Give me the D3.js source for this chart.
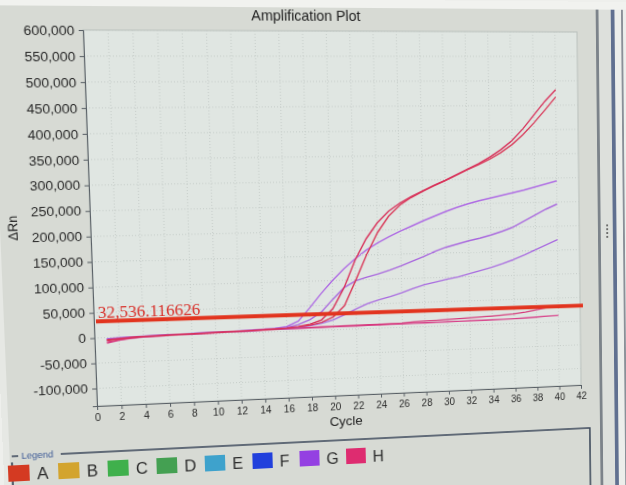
<!DOCTYPE html>
<html>
<head>
<meta charset="utf-8">
<script src="https://cdn.jsdelivr.net/npm/d3@7"></script>
<style>
  body { margin: 0; background: #eeefec; overflow: hidden; }
  svg { display: block; transform-origin: 0 0; }
  text { font-family: "Liberation Sans", Arial, sans-serif; }
</style>
</head>
<body>
<svg id="chart" width="680" height="540"></svg>
<script>
// Data
const cycles = [1,2,3,4,5,6,7,8,9,10,11,12,13,14,15,16,17,18,19,20,
                21,22,23,24,25,26,27,28,29,30,31,32,33,34,35,36,37,38,39,40];

const wellH1 = [-4000,-2500,-1000,0,500,1000,1500,2000,2500,3000,3500,4000,4500,5000,6000,
  7000,9000,13000,21000,43000,85000,140000,183000,215000,238000,254000,267000,278000,289000,299000,
  310000,321000,332000,345000,360000,378000,402000,430000,458000,482000];
const wellH2 = [-6000,-3500,-1500,-500,0,500,1000,1500,2000,2500,3000,3500,4000,4500,5000,
  6000,8000,11000,16000,26000,48000,98000,150000,195000,228000,250000,265000,277000,288000,298000,
  309000,320000,330000,341000,354000,370000,390000,414000,440000,467000];
const wellG1 = [-3000,-1500,-500,0,500,1000,1500,2000,2500,3000,3500,4500,5000,6000,7000,
  10000,20000,46000,74000,100000,123000,143000,160000,174000,186000,197000,207000,217000,226000,235000,
  243000,250000,256000,261000,266000,271000,276000,282000,288000,294000];
const wellG2 = [-5000,-2500,-1000,0,500,1000,1500,2000,2500,3000,3500,4000,4500,5500,6500,
  8000,13000,22000,37000,62000,85000,98000,105000,111000,118000,126000,135000,144000,154000,162000,
  168000,174000,179000,185000,192000,200000,212000,224000,236000,246000];
const wellG3 = [-2000,-1000,0,500,1000,1500,2000,2500,3000,3000,3500,4000,4000,4500,5000,
  5500,7000,10000,14000,20000,30000,41000,51000,58000,64000,71000,79000,86000,91000,96000,
  100000,106000,112000,118000,125000,133000,142000,152000,162000,172000];
const wellH3 = [-9000,-5000,-2500,-1000,0,500,1000,1500,2000,2500,3000,3500,4000,4500,5000,
  5500,6000,6500,7000,7000,7500,7500,8000,8000,8500,9000,10500,11500,12000,13000,
  14000,15000,16000,17000,18500,20000,23000,27000,31000,34000];
const wellH4 = [-11000,-6000,-3000,-1500,-500,0,500,1000,1500,2000,2500,3000,3500,4000,4500,
  5000,5200,5500,5700,6000,6000,6300,6500,6800,7000,7100,7400,7600,7900,8200,
  8400,8700,8800,9100,9500,10000,10800,11800,12900,14000];

const threshold = 32536.116626;
const xTicks = [0,2,4,6,8,10,12,14,16,18,20,22,24,26,28,30,32,34,36,38,40,42];
const yTicks = [-100000,-50000,0,50000,100000,150000,200000,250000,300000,350000,400000,450000,500000,550000,600000];
const legendNames = ['A','B','C','D','E','F','G','H'];
const legendColors = ['#d43a22','#d3a42e','#3fb04c','#44a052','#3ea2cc','#2140dc','#9440e2','#de2c70'];

// Plot box (flat frame, later bent to the camera angle)
const plot = { left: 90, right: 580, top: 31, bottom: 398 };
const svg = d3.select('#chart');

const x = d3.scaleLinear().domain([0, 42]).range([plot.left, plot.right]);
const y = d3.scaleLinear().domain([-135000, 600000]).range([plot.bottom, plot.top]);

// backgrounds
svg.append('rect').attr('width', 680).attr('height', 540).attr('fill', '#d7dad4');
svg.append('rect').attr('width', 680).attr('height', 8).attr('fill', '#f1f2ef');
svg.append('rect').attr('width', 6).attr('height', 540).attr('fill', '#e6e8e4');
svg.append('rect').attr('x', plot.left).attr('y', plot.top)
  .attr('width', plot.right - plot.left).attr('height', plot.bottom - plot.top)
  .attr('fill', '#e0e6e2').attr('stroke', '#b9bfbb');

// right side panel borders
svg.append('rect').attr('x', 600).attr('y', 8).attr('width', 3).attr('height', 532).attr('fill', '#7c838a');
svg.append('rect').attr('x', 603).attr('y', 8).attr('width', 13).attr('height', 532).attr('fill', '#dde0dc');
svg.append('rect').attr('x', 616).attr('y', 8).attr('width', 4).attr('height', 532).attr('fill', '#607090');
svg.append('rect').attr('x', 620).attr('y', 8).attr('width', 60).attr('height', 532).attr('fill', '#eceeeb');
svg.append('rect').attr('x', 627).attr('y', 8).attr('width', 2).attr('height', 532).attr('fill', '#8a9098');
[231, 235, 239, 243].forEach(d => {
  svg.append('circle').attr('cx', 610).attr('cy', d).attr('r', 0.9).attr('fill', '#333');
});

// grid
svg.append('g').selectAll('line').data(yTicks).join('line')
  .attr('x1', plot.left).attr('x2', plot.right)
  .attr('y1', d => y(d)).attr('y2', d => y(d))
  .attr('stroke', '#c6cdc9').attr('stroke-dasharray', '1,2');
svg.append('g').selectAll('line').data(xTicks.slice(1, -1)).join('line')
  .attr('x1', d => x(d)).attr('x2', d => x(d))
  .attr('y1', plot.top).attr('y2', plot.bottom)
  .attr('stroke', '#c6cdc9').attr('stroke-dasharray', '1,2');

// axes
const yAxis = svg.append('g').attr('transform', `translate(${plot.left},0)`)
  .call(d3.axisLeft(y).tickValues(yTicks).tickSize(4).tickPadding(4)
    .tickFormat(d => d3.format(',')(d).replace('\u2212', '-')));
yAxis.selectAll('text').style('font-size', '13px').attr('fill', '#2a2a2a');

const xAxis = svg.append('g').attr('transform', `translate(0,${plot.bottom})`)
  .call(d3.axisBottom(x).tickValues(xTicks).tickSize(4).tickPadding(4));
xAxis.selectAll('text').style('font-size', '10px').attr('fill', '#2a2a2a');
svg.selectAll('.domain, .tick line').attr('stroke', '#596066');

// titles
svg.append('text').attr('x', 304).attr('y', 21).attr('text-anchor', 'middle')
  .style('font-size', '14px').attr('fill', '#222').text('Amplification Plot');
svg.append('text').attr('x', 334).attr('y', 429).attr('text-anchor', 'middle')
  .style('font-size', '13.5px').attr('fill', '#222').text('Cycle');
svg.append('text').attr('transform', 'translate(22,221) rotate(-90)').attr('text-anchor', 'middle')
  .style('font-size', '12.5px').attr('fill', '#222').text('ΔRn');

// amplification curves
const line = d3.line().x((d, i) => x(cycles[i])).y(d => y(d));
const curves = [
  { values: wellH4, color: '#d8428a' },
  { values: wellH3, color: '#d63a7c' },
  { values: wellG3, color: '#a86ae0' },
  { values: wellG2, color: '#a866de' },
  { values: wellG1, color: '#ae6ae4' },
  { values: wellH2, color: '#d93858' },
  { values: wellH1, color: '#d8305a' }
];
svg.append('g').selectAll('path').data(curves).join('path')
  .attr('d', d => line(d.values))
  .attr('fill', 'none')
  .attr('stroke', d => d.color)
  .attr('stroke-width', 1.4);

// threshold
svg.append('line')
  .attr('x1', plot.left + 2).attr('x2', plot.right + 3)
  .attr('y1', y(threshold)).attr('y2', y(threshold))
  .attr('stroke', '#e2341f').attr('stroke-width', 4);
svg.append('text').attr('x', plot.left + 4).attr('y', y(threshold) - 3)
  .style('font-family', '"Liberation Serif", "Times New Roman", serif')
  .style('font-size', '16.5px').attr('fill', '#d8302a')
  .text(d3.format(',.6f')(threshold));

// legend
const legend = svg.append('g');
legend.append('path')
  .attr('d', 'M8,450 V540 M8,444 H14 M54,444 H589 V540')
  .attr('fill', 'none').attr('stroke', '#3a4658').attr('stroke-width', 1.6);
legend.append('text').attr('x', 17).attr('y', 447).style('font-size', '9px')
  .attr('fill', '#3d5a96').text('Legend');
legendNames.forEach((name, i) => {
  const g = legend.append('g').attr('transform', `translate(${4 + i * 47},453)`);
  g.append('rect').attr('width', 20).attr('height', 16).attr('fill', legendColors[i]);
  g.append('text').attr('x', 27).attr('y', 15).style('font-size', '16px')
    .attr('fill', '#2a2a2a').text(name);
});

// bend the flat drawing to the camera angle of the photo
function homography(src, dst) {
  const A = [], b = [];
  src.forEach(([sx, sy], i) => {
    const [u, v] = dst[i];
    A.push([sx, sy, 1, 0, 0, 0, -u * sx, -u * sy]); b.push(u);
    A.push([0, 0, 0, sx, sy, 1, -v * sx, -v * sy]); b.push(v);
  });
  for (let c = 0; c < 8; c++) {
    let p = c;
    for (let r = c + 1; r < 8; r++) if (Math.abs(A[r][c]) > Math.abs(A[p][c])) p = r;
    [A[c], A[p]] = [A[p], A[c]]; [b[c], b[p]] = [b[p], b[c]];
    for (let r = 0; r < 8; r++) {
      if (r === c) continue;
      const f = A[r][c] / A[c][c];
      for (let k = c; k < 8; k++) A[r][k] -= f * A[c][k];
      b[r] -= f * b[c];
    }
  }
  return b.map((v, i) => v / A[i][i]);
}
const h = homography(
  [[plot.left, plot.top], [plot.right, plot.top], [plot.right, plot.bottom], [plot.left, plot.bottom]],
  [[83, 30], [577, 32], [581, 385], [97, 406]]
);
svg.style('transform', `matrix3d(${h[0]},${h[3]},0,${h[6]},${h[1]},${h[4]},0,${h[7]},0,0,1,0,${h[2]},${h[5]},0,1)`);
</script>
</body>
</html>
